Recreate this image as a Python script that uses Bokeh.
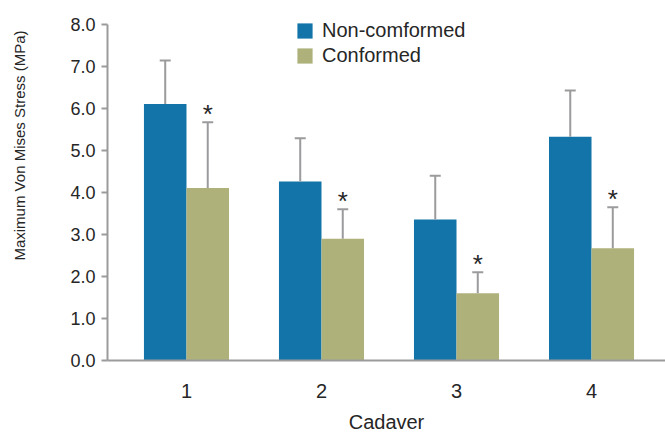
import numpy as np
from bokeh.plotting import figure
from bokeh.models import (Range1d, FixedTicker, Whisker, TeeHead, ColumnDataSource,
                          Legend, LegendItem, NumeralTickFormatter, Title)
from bokeh.core.properties import value
from bokeh.embed import file_html
from bokeh.resources import INLINE

# ---- data ----
cadavers = [1, 2, 3, 4]
tick_labels = ["1", "2", "3", "4"]
nonconf = [6.11, 4.26, 3.36, 5.33]
nonconf_err = [1.03, 1.03, 1.04, 1.10]
conf = [4.11, 2.90, 1.60, 2.67]
conf_err = [1.56, 0.70, 0.50, 0.98]
series_names = ["Non-comformed", "Conformed"]
y_ticks = [0, 1, 2, 3, 4, 5, 6, 7, 8]

# ---- style ----
FONT = "Liberation Sans"
TXT = "#262626"
BLUE = "#1274a8"
GREEN = "#aeb27a"
GRAY = "#9b9b9e"
bar_w = 0.315
off = bar_w / 2

x = np.array(cadavers, dtype=float)
src_nc = ColumnDataSource(dict(x=x - off, top=nonconf,
                               upper=np.array(nonconf) + np.array(nonconf_err)))
src_c = ColumnDataSource(dict(x=x + off, top=conf,
                              upper=np.array(conf) + np.array(conf_err),
                              star=["*"] * len(conf)))

p = figure(width=665, height=436, x_range=Range1d(0.415, 4.548), y_range=Range1d(0, 8.5),
           output_backend="svg", toolbar_location=None,
           min_border_left=107, min_border_right=0, min_border_top=3, min_border_bottom=76)
p.outline_line_color = None
p.grid.grid_line_color = None
p.background_fill_color = "white"
p.border_fill_color = "white"

r1 = p.vbar(x="x", top="top", width=bar_w, source=src_nc, fill_color=BLUE, line_color=None)
r2 = p.vbar(x="x", top="top", width=bar_w, source=src_c, fill_color=GREEN, line_color=None)

for src in (src_nc, src_c):
    w = Whisker(source=src, base="x", lower="top", upper="upper", dimension="height",
                line_color=GRAY, line_width=2,
                upper_head=TeeHead(size=11, line_color=GRAY, line_width=2),
                lower_head=None, level="glyph")
    p.add_layout(w)

p.text(x="x", y="upper", text="star", source=src_c, text_align="center",
       text_baseline="middle", y_offset=-8, text_font_size="26px",
       text_color=TXT, text_font=value(FONT))

# axes
ya = p.yaxis[0]
ya.bounds = (0, 8)
ya.ticker = FixedTicker(ticks=y_ticks)
ya.formatter = NumeralTickFormatter(format="0.0")
ya.major_label_text_font = FONT
ya.major_label_text_font_size = "18px"
ya.major_label_text_color = TXT
ya.major_label_standoff = 6
ya.major_tick_out = 6
ya.major_tick_in = 0
ya.minor_tick_line_color = None
ya.axis_line_color = GRAY
ya.axis_line_width = 2
ya.major_tick_line_color = GRAY
ya.major_tick_line_width = 2

xa = p.xaxis[0]
xa.ticker = FixedTicker(ticks=cadavers)
xa.major_label_overrides = {c: t for c, t in zip(cadavers, tick_labels)}
xa.major_label_text_font = FONT
xa.major_label_text_font_size = "20px"
xa.major_label_text_color = TXT
xa.major_label_standoff = 23
xa.major_tick_line_color = None
xa.major_tick_out = 0
xa.minor_tick_line_color = None
xa.axis_line_color = GRAY
xa.axis_line_width = 2
xa.axis_label = "Cadaver"
xa.axis_label_text_font = FONT
xa.axis_label_text_font_size = "20px"
xa.axis_label_text_font_style = "normal"
xa.axis_label_text_color = TXT
xa.axis_label_standoff = 10

# blank spacer between the y axis and its title
spacer = Title(text=" ", text_font=FONT, text_font_size="15px", standoff=21)
p.add_layout(spacer, "left")

ytitle = Title(text="Maximum Von Mises Stress (MPa)", align="right", offset=27,
               text_font=FONT, text_font_size="15px", text_font_style="normal",
               text_color=TXT, standoff=0)
p.add_layout(ytitle, "left")

legend = Legend(items=[LegendItem(label=series_names[0], renderers=[r1]),
                       LegendItem(label=series_names[1], renderers=[r2])],
                location=(188, 293), orientation="vertical",
                glyph_width=19, glyph_height=19, label_height=19, spacing=2,
                padding=0, margin=0, label_standoff=8,
                label_text_font=FONT, label_text_font_size="20px", label_text_color=TXT,
                border_line_color=None, background_fill_alpha=0)
p.add_layout(legend, "center")

open("out.html", "w").write(file_html(p, INLINE))
